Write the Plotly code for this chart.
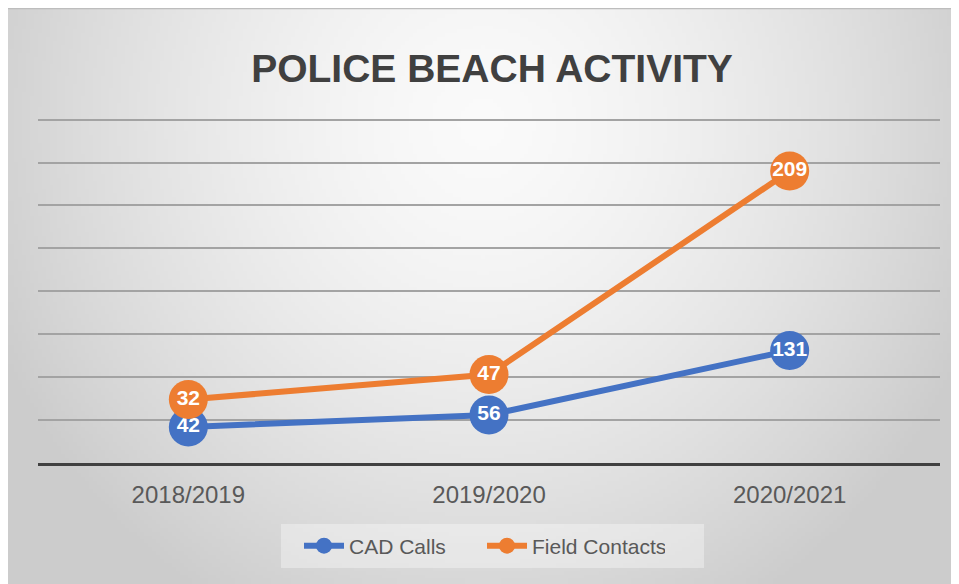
import base64
import struct
import zlib
import math
import plotly.graph_objects as go

# ---- data ----
categories = ["2018/2019", "2019/2020", "2020/2021"]
cad_calls = [42, 56, 131]
field_contacts = [32, 47, 209]
series_names = ["CAD Calls", "Field Contacts"]
chart_title = "POLICE BEACH ACTIVITY"

BLUE = "#4472C4"
ORANGE = "#ED7D31"


# ---- background radial gradient as an inline PNG ----
def make_png(w, h):
    rows = []
    for j in range(h):
        row = bytearray([0])
        yn = j / (h - 1)
        for i in range(w):
            xn = i / (w - 1)
            d = math.sqrt(((xn - 0.5) / 0.56) ** 2 + ((yn - 0.2) / 0.97) ** 2)
            d = min(1.0, d)
            v = int(round(250 - 46 * d ** 1.5))
            row += bytes([v, v, v])
        rows.append(bytes(row))
    raw = b"".join(rows)

    def chunk(tag, data):
        c = struct.pack(">I", len(data)) + tag + data
        return c + struct.pack(">I", zlib.crc32(tag + data) & 0xFFFFFFFF)

    png = b"\x89PNG\r\n\x1a\n"
    png += chunk(b"IHDR", struct.pack(">IIBBBBB", w, h, 8, 2, 0, 0, 0))
    png += chunk(b"IDAT", zlib.compress(raw, 9))
    png += chunk(b"IEND", b"")
    return "data:image/png;base64," + base64.b64encode(png).decode()


bg_src = make_png(240, 148)

W, H = 949, 576
L, R, T, B = 30, 17, 103, 121
pw = W - L - R
ph = H - T - B


def px_to_paper_x(px):
    return (px - L) / pw


def px_to_paper_y(py):
    return (H - B - py) / ph


label_font = dict(family="Liberation Sans, Arial, sans-serif", size=21, color="white", weight="bold")

fig = go.Figure()

fig.add_trace(go.Scatter(
    x=categories, y=cad_calls, name=series_names[0],
    stackgroup="one", fill="none",
    mode="lines+markers+text",
    line=dict(color=BLUE, width=6),
    marker=dict(size=39, color=BLUE),
    text=[str(v) for v in cad_calls],
    textposition="middle center",
    textfont=label_font,
))
fig.add_trace(go.Scatter(
    x=categories, y=field_contacts, name=series_names[1],
    stackgroup="one", fill="none",
    mode="lines+markers+text",
    line=dict(color=ORANGE, width=6),
    marker=dict(size=39, color=ORANGE),
    text=[str(v) for v in field_contacts],
    textposition="middle center",
    textfont=label_font,
))

fig.update_layout(
    width=W, height=H,
    margin=dict(l=L, r=R, t=T, b=B),
    paper_bgcolor="white",
    plot_bgcolor="rgba(0,0,0,0)",
    title=dict(
        text=chart_title,
        x=484 / W, xref="container", xanchor="center",
        y=1 - 60 / H, yref="container", yanchor="middle",
        font=dict(family="Liberation Sans, Arial, sans-serif",
                  size=39, color="#404040", weight="bold"),
    ),
    showlegend=True,
    legend=dict(
        orientation="h",
        x=px_to_paper_x(291), xanchor="left",
        y=px_to_paper_y(538), yanchor="middle",
        bgcolor="rgba(0,0,0,0)",
        font=dict(family="Liberation Sans, Arial, sans-serif", size=21, color="#595959"),
        traceorder="normal",
        itemwidth=40,
        entrywidth=128,
    ),
    xaxis=dict(
        type="category",
        range=[-0.5, 2.5],
        showgrid=False,
        showline=True, linecolor="#404040", linewidth=3,
        ticks="outside", ticklen=8, tickcolor="rgba(0,0,0,0)",
        tickfont=dict(family="Liberation Sans, Arial, sans-serif", size=24, color="#595959"),
        zeroline=False,
        fixedrange=True,
    ),
    yaxis=dict(
        range=[0, 410],
        tick0=0,
        dtick=50,
        showgrid=True, gridcolor="#a3a3a3", gridwidth=2,
        showticklabels=False,
        zeroline=False,
        showline=False,
        fixedrange=True,
    ),
    images=[dict(
        source=bg_src,
        xref="paper", yref="paper",
        x=px_to_paper_x(0), y=px_to_paper_y(0),
        sizex=W / pw, sizey=H / ph,
        xanchor="left", yanchor="top",
        sizing="stretch", layer="below",
    )],
    shapes=[
        dict(
            type="line", xref="paper", yref="paper",
            x0=px_to_paper_x(0), x1=px_to_paper_x(W),
            y0=px_to_paper_y(0.5), y1=px_to_paper_y(0.5),
            line=dict(color="#bdbdbd", width=1.5),
            layer="below",
        ),
        dict(
            type="rect", xref="paper", yref="paper",
            x0=px_to_paper_x(273), x1=px_to_paper_x(696),
            y0=px_to_paper_y(516), y1=px_to_paper_y(560),
            fillcolor="rgba(255,255,255,0.35)",
            line=dict(width=0),
            layer="below",
        ),
    ],
)

fig.write_html("out.html")
